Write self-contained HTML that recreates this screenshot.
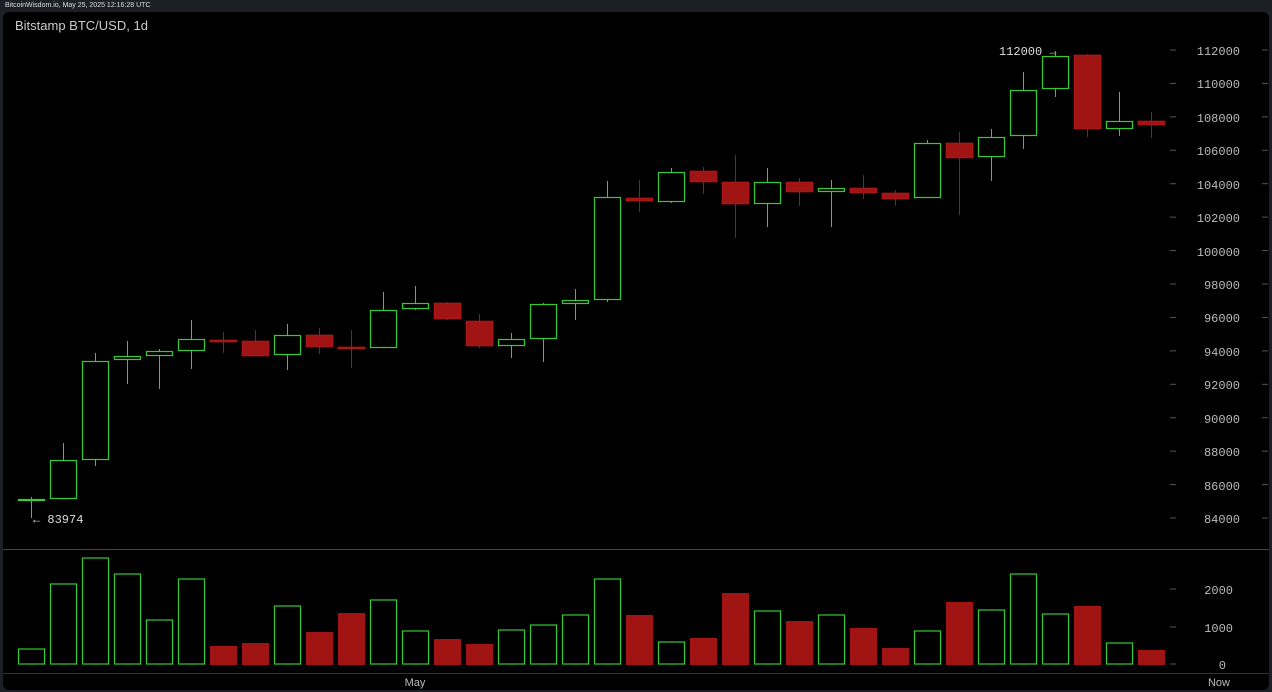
<!DOCTYPE html>
<html><head><meta charset="utf-8"><style>
html,body{margin:0;padding:0;background:#1c1f26;}
body{width:1272px;height:692px;overflow:hidden;position:relative;font-family:"Liberation Sans",sans-serif;}
#hdr{position:absolute;left:5px;top:2px;font-size:7px;color:#ddd;}
#chart{position:absolute;left:3px;top:12px;width:1266px;height:678px;background:#000;border-radius:6px;}
svg{position:absolute;left:0;top:0;}
</style></head><body>
<div id="hdr">BitcoinWisdom.io, May 25, 2025 12:16:28 UTC</div>
<div id="chart"></div>
<svg id="s" width="1272" height="692" xmlns="http://www.w3.org/2000/svg">
<text x="15" y="30" font-family="Liberation Sans" font-size="13" fill="#ccc">Bitstamp BTC/USD, 1d</text>
<line x1="3" y1="549.5" x2="1269" y2="549.5" stroke="#444"/>
<line x1="3" y1="673.5" x2="1269" y2="673.5" stroke="#333"/>
<g font-family="Liberation Mono" font-size="12" fill="#bbb" text-anchor="end">
<text x="1240" y="55">112000</text><text x="1240" y="88">110000</text><text x="1240" y="122">108000</text>
<text x="1240" y="155">106000</text><text x="1240" y="189">104000</text><text x="1240" y="222">102000</text>
<text x="1240" y="256">100000</text><text x="1240" y="289">98000</text><text x="1240" y="322">96000</text>
<text x="1240" y="356">94000</text><text x="1240" y="389">92000</text><text x="1240" y="423">90000</text>
<text x="1240" y="456">88000</text><text x="1240" y="490">86000</text><text x="1240" y="523">84000</text>
<text x="1233" y="594">2000</text><text x="1233" y="632">1000</text><text x="1226" y="669">0</text>
</g>
<g font-family="Liberation Mono" font-size="12" fill="#ddd">
<text x="999" y="55">112000 →</text>
<text x="33" y="523">← 83974</text>
</g>
<g font-family="Liberation Sans" font-size="11" fill="#bbb" text-anchor="middle">
<text x="415" y="686">May</text><text x="1219" y="686">Now</text></g>
<g id="g"></g>
</svg>
<script>
var c=[[1,499,500,497,518],[1,460,498,443,499],[1,361,459,353,466],[1,356,359,341,384],[1,351,355,349,389],[1,339,350,320,369],[0,340,341,332,353],[0,341,355,330,356],[1,335,354,324,370],[0,335,346,328,354],[0,347,348,330,368],[1,310,347,292,348],[1,303,308,286,310],[0,303,318,302,320],[0,321,345,314,348],[1,339,345,333,358],[1,304,338,303,362],[1,300,303,289,320],[1,197,299,181,302],[0,198,200,180,212],[1,172,201,168,203],[0,171,181,167,194],[0,182,203,155,238],[1,182,203,168,227],[0,182,191,178,206],[1,188,191,180,227],[0,188,192,175,199],[0,193,198,190,206],[1,143,197,140,198],[0,143,157,132,215],[1,137,156,129,181],[1,90,135,72,149],[1,56,88,51,97],[0,55,128,54,137],[1,121,128,92,136],[0,121,124,112,138]];
var v=[649,584,558,574,620,579,646,643,606,632,613,600,631,639,644,630,625,615,579,615,642,638,593,611,621,615,628,648,631,602,610,574,614,606,643,650];
var h='',G='#3c3',R='#a01414';
for(var y=0;y<15;y++){var yy=50+y*33.43;h+='<line x1="1170" y1="'+yy+'" x2="1176" y2="'+yy+'" stroke="#555"/><line x1="1262" y1="'+yy+'" x2="1268" y2="'+yy+'" stroke="#555"/>';}
[589,627,664].forEach(function(yy){h+='<line x1="1170" y1="'+yy+'" x2="1176" y2="'+yy+'" stroke="#555"/>';});
c.forEach(function(d,i){var x=31+i*32,col=d[0]?G:R;
h+='<line x1="'+(x+.5)+'" y1="'+d[3]+'" x2="'+(x+.5)+'" y2="'+d[4]+'" stroke="'+col+'"/>';
var hh=Math.max(d[2]-d[1],1);
if(d[0])h+='<rect x="'+(x-12.5)+'" y="'+(d[1]+.5)+'" width="26" height="'+hh+'" fill="#000" stroke="'+G+'" stroke-width="1.2"/>';
else h+='<rect x="'+(x-13)+'" y="'+d[1]+'" width="27" height="'+(hh+1)+'" fill="'+R+'" stroke="#c01818" stroke-width="0.6"/>';
var t=v[i];
if(d[0])h+='<rect x="'+(x-12.5)+'" y="'+t+'" width="26" height="'+(664-t)+'" fill="none" stroke="'+G+'" stroke-width="1.2"/>';
else h+='<rect x="'+(x-13)+'" y="'+t+'" width="27" height="'+(665-t)+'" fill="'+R+'"/>';});
document.getElementById('g').innerHTML=h;
</script>
</body></html>
